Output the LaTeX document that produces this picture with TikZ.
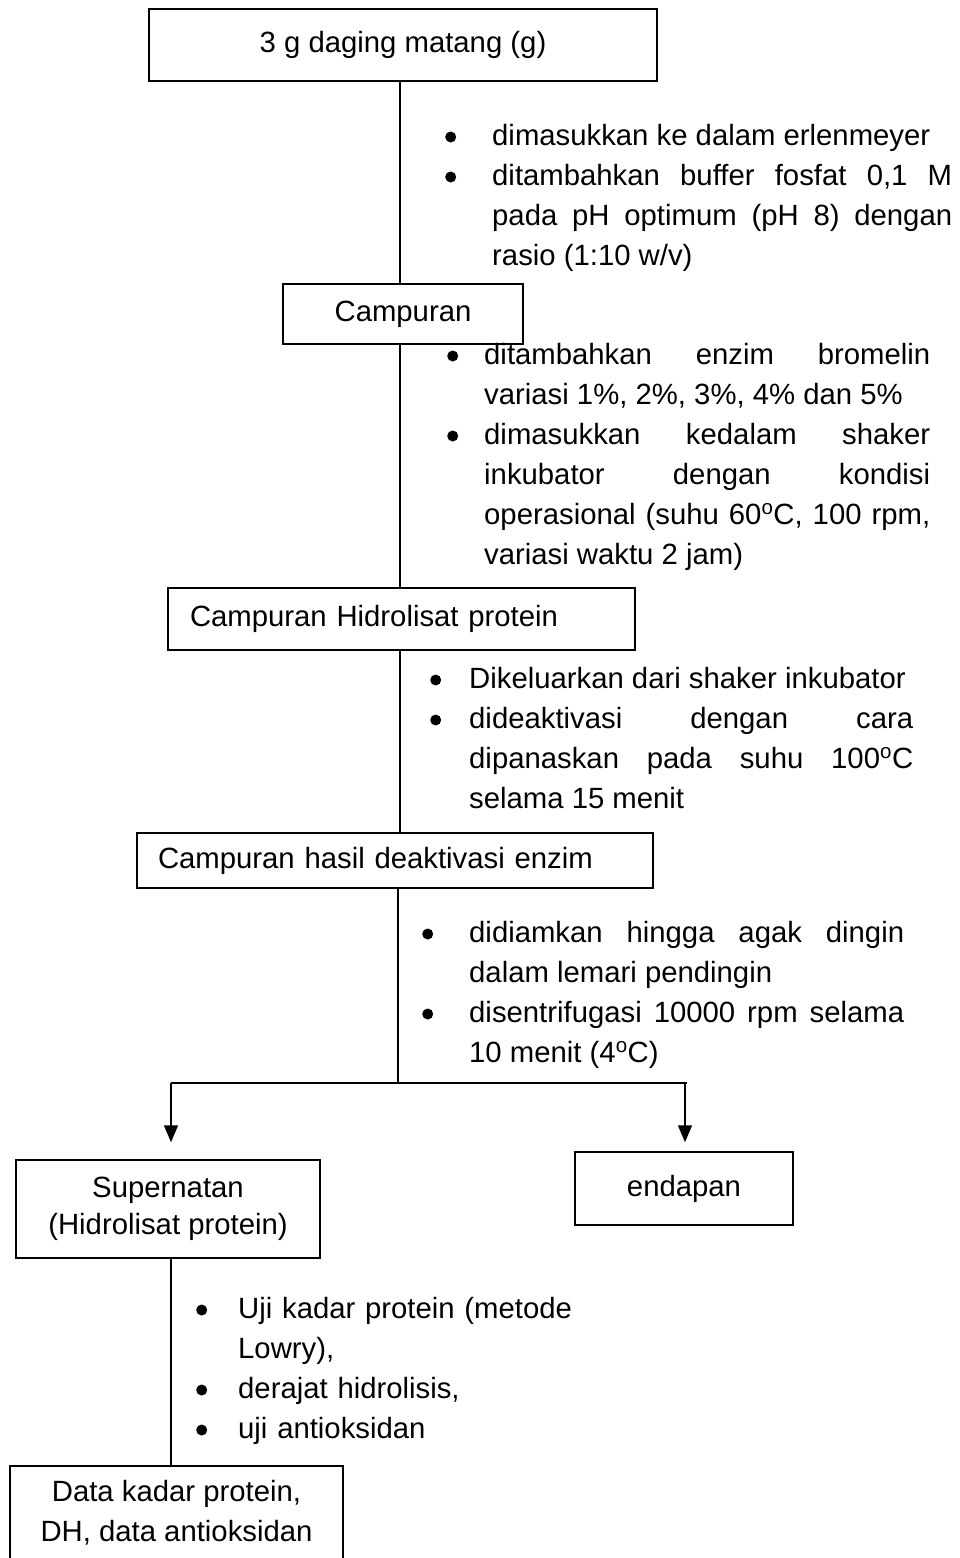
\documentclass[tikz,border=0pt]{standalone}
\usepackage{fontspec}
\setmainfont{Liberation Sans}
\usepackage{tikz}
\usetikzlibrary{arrows.meta}
\tikzstyle{stepbox}=[draw=black, line width=1.5pt, inner sep=0pt, font={\fontsize{29.3}{40}\selectfont}]
\tikzstyle{notes}=[anchor=base west, inner sep=0pt, align=justify, font={\fontsize{29.3}{40}\selectfont}]
\tikzstyle{flow}=[line width=1.5pt]
\tikzstyle{flowarrow}=[line width=1.5pt, -{Triangle[width=14pt,length=17pt]}]
\newcommand{\dotitem}[1]{\noindent\llap{\tikz[baseline=0pt]\fill (0pt,8pt) circle (5.5pt);\hspace{#1}}}
\tolerance=9999
\hyphenpenalty=10000

\begin{document}
\begin{tikzpicture}[x=1pt, y=-1pt]
          \useasboundingbox (0,0) rectangle (960,1558);
          \node[stepbox, minimum width=508pt, minimum height=72pt] (raw) at (403,45) {3 g daging matang (g)};
          \node[stepbox, minimum width=240pt, minimum height=60pt] (mix) at (403,314) {Campuran};
          \node[stepbox, text width=423pt, inner xsep=22pt, minimum height=62pt, align=left] (hydro) at (401.5,619) {Campuran Hidrolisat protein};
          \node[stepbox, text width=474pt, inner xsep=21pt, minimum height=55pt, align=left] (deact) at (395,860.5) {Campuran hasil deaktivasi enzim};
          \node[stepbox, minimum width=304pt, minimum height=98pt, align=center, font={\fontsize{29.3}{37}\selectfont}] (super) at (168,1209) {Supernatan\\(Hidrolisat protein)};
          \node[stepbox, minimum width=218pt, minimum height=73pt] (sed) at (684,1188.5) {endapan};
          \node[stepbox, minimum width=333pt, minimum height=94pt, align=center] (result) at (176.5,1513) {Data kadar protein,\\DH, data antioksidan};
          \node[notes, text width=460pt] (note1) at (492,145) {\dotitem{36pt}dimasukkan ke dalam erlenmeyer\par \dotitem{36pt}ditambahkan buffer fosfat 0,1 M\linebreak pada pH optimum (pH 8) dengan\linebreak rasio (1:10 w/v)};
          \node[notes, text width=446pt] (note2) at (484,364) {\dotitem{26pt}ditambahkan enzim bromelin\linebreak variasi 1\%, 2\%, 3\%, 4\% dan 5\%\par \dotitem{26pt}dimasukkan kedalam shaker\linebreak inkubator dengan kondisi\linebreak operasional (suhu 60\textsuperscript{o}C, 100 rpm,\linebreak variasi waktu 2 jam)};
          \node[notes, text width=444pt] (note3) at (469,688) {\dotitem{28pt}Dikeluarkan dari shaker inkubator\par \dotitem{28pt}dideaktivasi dengan cara\linebreak dipanaskan pada suhu 100\textsuperscript{o}C\linebreak selama 15 menit};
          \node[notes, text width=435pt] (note4) at (469,942) {\dotitem{36pt}didiamkan hingga agak dingin\linebreak dalam lemari pendingin\par \dotitem{36pt}disentrifugasi 10000 rpm selama\linebreak 10 menit (4\textsuperscript{o}C)};
          \node[notes, text width=380pt, align=left] (note5) at (238,1318) {\dotitem{31pt}Uji kadar protein (metode\newline Lowry),\par \dotitem{31pt}derajat hidrolisis,\par \dotitem{31pt}uji antioksidan};
          \coordinate (trunk) at (400,0);
          \coordinate (split) at (398,1083);
          \coordinate (splitl) at (171,1083);
          \coordinate (splitr) at (685,1083);
          \draw[flow] (trunk |- raw.south) -- (trunk |- mix.north);
          \draw[flow] (trunk |- mix.south) -- (trunk |- hydro.north);
          \draw[flow] (trunk |- hydro.south) -- (trunk |- deact.north);
          \draw[flow] (split |- deact.south) -- (split);
          \draw[flow] (splitl) -- ([xshift=2pt]splitr);
          \draw[flowarrow, shorten >=17pt] (splitl) -- (splitl |- super.north);
          \draw[flowarrow, shorten >=9pt] (splitr) -- (splitr |- sed.north);
          \draw[flow] (splitl |- super.south) -- (splitl |- result.north);
        \end{tikzpicture}
\end{document}
